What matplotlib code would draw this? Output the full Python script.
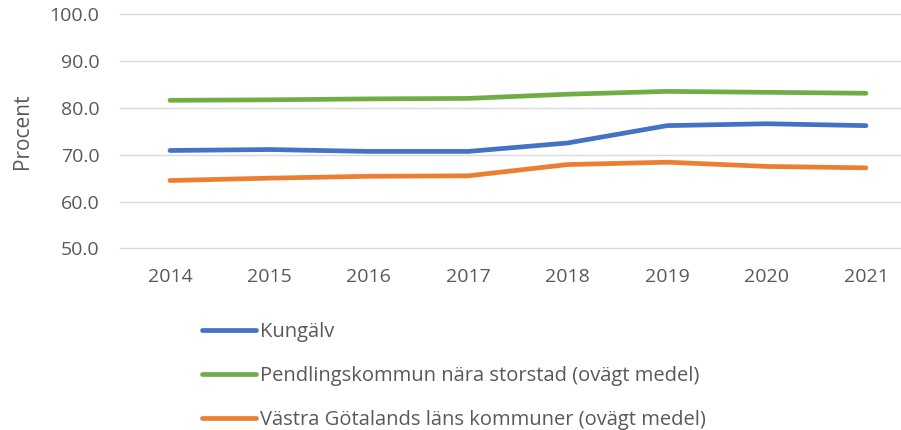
import matplotlib
matplotlib.use("Agg")
import matplotlib.pyplot as plt

years = ["2014", "2015", "2016", "2017", "2018", "2019", "2020", "2021"]
kungalv = [70.9, 71.1, 70.7, 70.7, 72.5, 76.2, 76.6, 76.2]
pendling = [81.6, 81.7, 81.9, 82.0, 82.9, 83.5, 83.3, 83.1]
vgr = [64.5, 65.0, 65.4, 65.5, 67.9, 68.4, 67.5, 67.2]

labels = [
    "Kungälv",
    "Pendlingskommun nära storstad (ovägt medel)",
    "Västra Götalands läns kommuner (ovägt medel)",
]
series = [kungalv, pendling, vgr]
colors = ["#4472C4", "#70AD47", "#ED7D31"]

TEXT = "#595959"
GRID = "#D9D9D9"

plt.rcParams["font.family"] = ["Open Sans", "DejaVu Sans"]

fig = plt.figure(figsize=(9.01, 4.30), dpi=100)
ax = fig.add_axes([120.3 / 901, 1 - 248.5 / 430, 795.4 / 901, 234.5 / 430])

x = list(range(len(years)))
for vals, lab, col in zip(series, labels, colors):
    ax.plot(x, vals, color=col, linewidth=3.4, label=lab, solid_capstyle="round")

ax.set_xlim(-0.5, len(years) - 0.5)
ax.set_ylim(50, 100)
ax.set_yticks(range(50, 101, 10))
ax.set_yticklabels([f"{v:.1f}" for v in range(50, 101, 10)])
ax.set_xticks(x)
ax.set_xticklabels(years)
ax.grid(axis="y", color=GRID, linewidth=1.0)
ax.set_axisbelow(True)
# keep the top/bottom gridlines from being half clipped at the axes edge
for gl in ax.get_ygridlines():
    gl.set_clip_on(False)
for s in ax.spines.values():
    s.set_visible(False)
ax.tick_params(axis="both", length=0, colors=TEXT, labelsize=14)
ax.tick_params(axis="y", pad=15)
ax.tick_params(axis="x", pad=14)
ax.set_ylabel("Procent", color=TEXT, fontsize=15, labelpad=12)

fig.legend(loc="upper left", bbox_to_anchor=(202 / 901, 1 - 322 / 430),
           frameon=False, fontsize=14.5, labelcolor=TEXT,
           handlelength=2.7, handletextpad=0.2, labelspacing=1.2,
           borderpad=0, borderaxespad=0)

fig.savefig("out.png", dpi=100)
